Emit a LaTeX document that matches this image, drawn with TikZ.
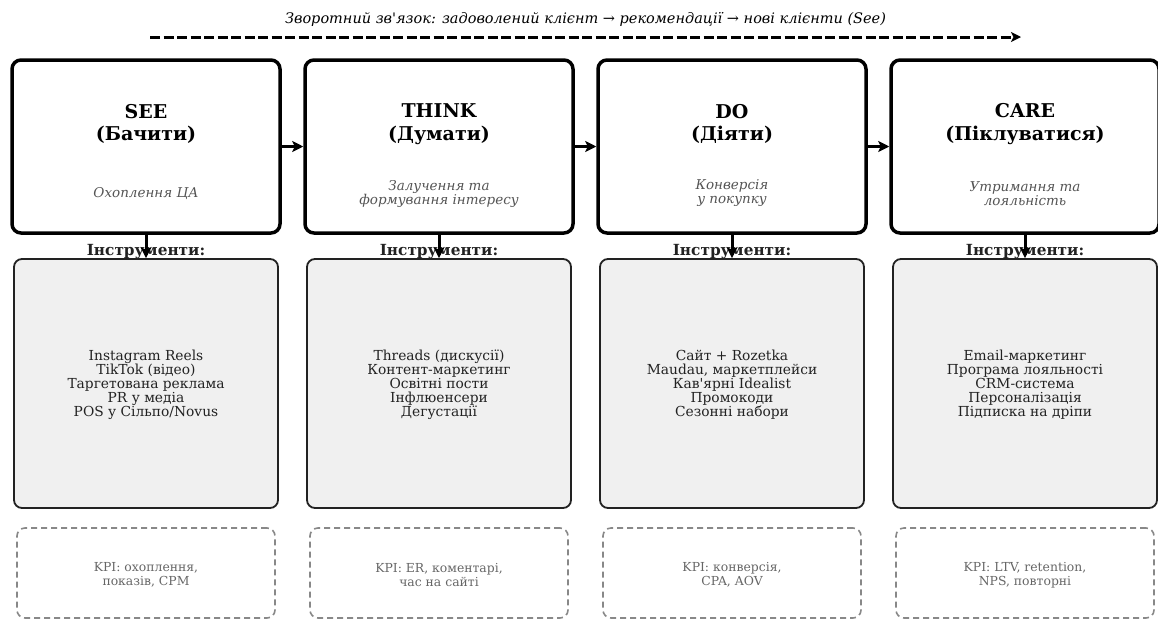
\documentclass[tikz,border=0pt]{standalone}
\usepackage{fontspec}
\setmainfont{DejaVu Serif}[Ligatures=TeXOff]
\usetikzlibrary{arrows.meta}
\definecolor{subgray}{HTML}{555555}
\definecolor{toolfill}{HTML}{F0F0F0}
\definecolor{tooldraw}{HTML}{222222}
\definecolor{kpigray}{HTML}{888888}
\definecolor{kpitext}{HTML}{666666}
\tikzset{
  stagebox/.style={draw=black, line width=3.5pt, rounded corners=9pt, fill=white, minimum width=268pt, minimum height=173pt, inner sep=0pt},
  toolbox/.style={draw=tooldraw, line width=1.8pt, rounded corners=8pt, fill=toolfill, minimum width=264pt, minimum height=249pt, inner sep=0pt},
  kpibox/.style={draw=kpigray, line width=1.6pt, dash pattern=on 6pt off 4pt, rounded corners=8pt, minimum width=258pt, minimum height=90pt, inner sep=0pt},
  titletxt/.style={font=\fontsize{19}{22.5}\selectfont\bfseries, align=center, inner sep=0pt},
  subtxt/.style={font=\fontsize{13.5}{14}\selectfont\itshape, text=subgray, align=center, inner sep=0pt},
  insttxt/.style={font=\fontsize{15.3}{17}\selectfont\bfseries, text=tooldraw, inner sep=0pt},
  tooltxt/.style={font=\fontsize{13.8}{14}\selectfont, text=tooldraw, align=center, inner sep=0pt},
  kpitxt/.style={font=\fontsize{12.4}{14}\selectfont, text=kpitext, align=center, inner sep=0pt},
  flowarrow/.style={line width=3pt, -{Stealth[length=11pt,width=11pt,inset=2.5pt]}},
  feedarrow/.style={line width=3pt, dash pattern=on 10pt off 3.5pt, -{Stealth[length=10pt,width=10pt,inset=2.5pt]}},
}
\begin{document}
\begin{tikzpicture}[x=1pt,y=-1pt]
\useasboundingbox (0,0) rectangle (1158,619);
% feedback
\node[font=\fontsize{14.5}{16}\selectfont\itshape, inner sep=0pt] (fb) at (585.5,19.5) {Зворотний зв'язок: задоволений клієнт → рекомендації → нові клієнти (See)};
\coordinate (fbs) at (150,37);
\coordinate (fbe) at (1021,37);
\draw[feedarrow] (fbs) -- (fbe);
% columns
\foreach \i/\cx/\ttl/\sub/\tools/\kpi in {
 1/146/{SEE\\(Бачити)}/{Охоплення ЦА}/{Instagram Reels\\TikTok (відео)\\Таргетована реклама\\PR у медіа\\POS у Сільпо/Novus}/{KPI: охоплення,\\показів, CPM},
 2/439/{THINK\\(Думати)}/{Залучення та\\формування інтересу}/{Threads (дискусії)\\Контент-маркетинг\\Освітні пости\\Інфлюенсери\\Дегустації}/{KPI: ER, коментарі,\\час на сайті},
 3/732/{DO\\(Діяти)}/{Конверсія\\у покупку}/{Сайт + Rozetka\\Maudau, маркетплейси\\Кав'ярні Idealist\\Промокоди\\Сезонні набори}/{KPI: конверсія,\\CPA, AOV},
 4/1025/{CARE\\(Піклуватися)}/{Утримання та\\лояльність}/{Email-маркетинг\\Програма лояльності\\CRM-система\\Персоналізація\\Підписка на дріпи}/{KPI: LTV, retention,\\NPS, повторні}}{
  \node[stagebox] (st\i) at (\cx,146.5) {};
  \node[titletxt] (ti\i) at (\cx,124) {\ttl};
  \node[subtxt] (su\i) at (\cx,193.5) {\sub};
  \node[toolbox] (tb\i) at (\cx,383.5) {};
  \node[insttxt] (in\i) at (\cx,251.5) {Інструменти:};
  \node[tooltxt] (tt\i) at (\cx,385) {\tools};
  \node[kpibox] (kb\i) at (\cx,573) {};
  \node[kpitxt] (kt\i) at (\cx,575) {\kpi};
  \draw[flowarrow] (st\i.south) -- (tb\i.north);
}
\draw[flowarrow] (st1.east) -- (st2.west);
\draw[flowarrow] (st2.east) -- (st3.west);
\draw[flowarrow] (st3.east) -- (st4.west);
\end{tikzpicture}
\end{document}
